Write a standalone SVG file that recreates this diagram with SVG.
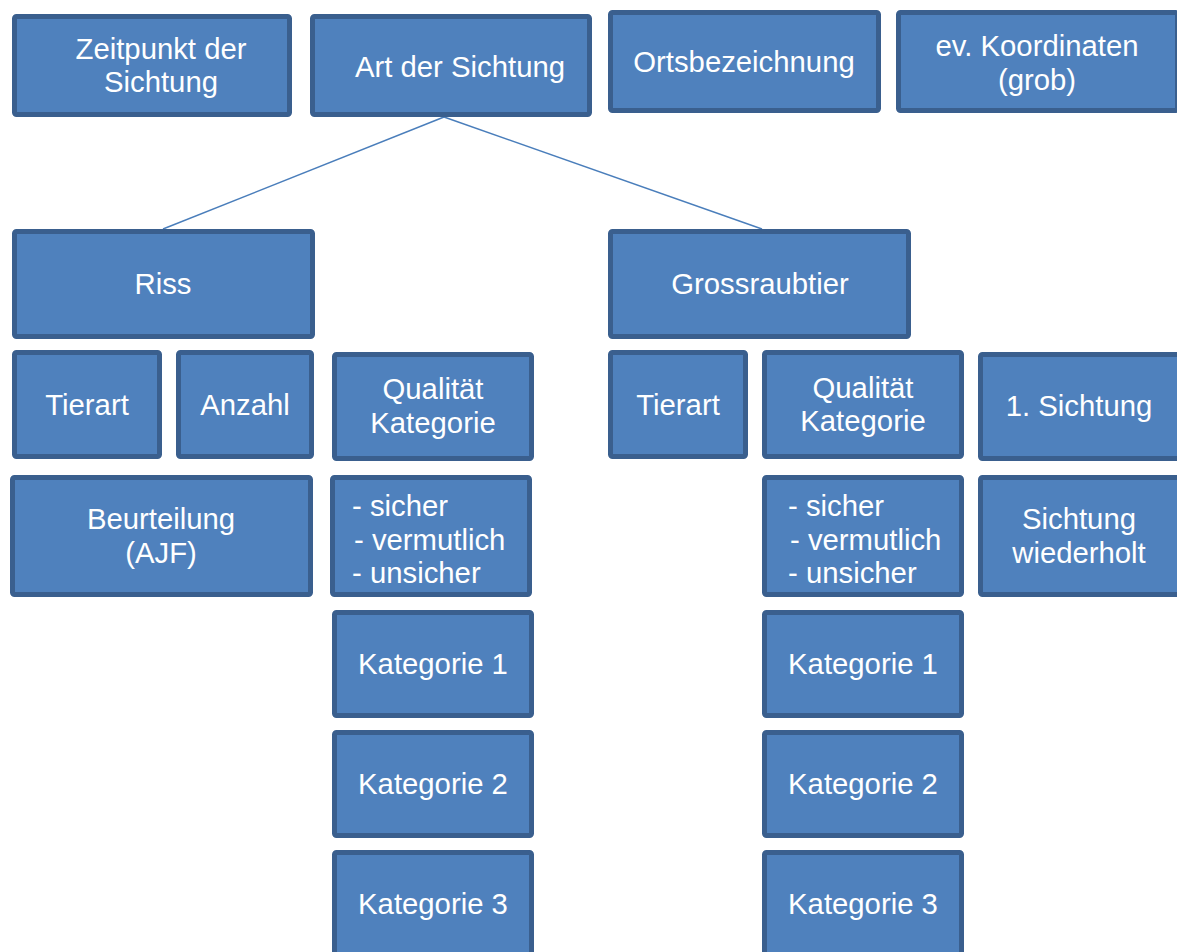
<svg xmlns="http://www.w3.org/2000/svg" width="1177" height="952" viewBox="0 0 1177 952">
<style>
.b{fill:#4F81BD;stroke:#3A5F8E;stroke-width:5}
.t{fill:#FFFFFF;font-family:"Liberation Sans",Arial,sans-serif;font-size:29.3px;text-anchor:middle}
.l{fill:#FFFFFF;font-family:"Liberation Sans",Arial,sans-serif;font-size:29.3px}
.c{stroke:#4A7EBB;stroke-width:1.5;fill:none}
</style>
<rect width="1177" height="952" fill="#FFFFFF"/>
<g id="connectors">
<line class="c" x1="444" y1="117" x2="163" y2="229"/>
<line class="c" x1="444" y1="117" x2="762" y2="229"/>
</g>
<g id="zeitpunkt"><rect class="b" x="14.5" y="16.5" width="275" height="98" rx="2"/><text class="t" x="161" y="59">Zeitpunkt der</text><text class="t" x="161" y="92">Sichtung</text></g>
<g id="art"><rect class="b" x="312.5" y="16.5" width="277" height="98" rx="2"/><text class="t" x="460" y="77">Art der Sichtung</text></g>
<g id="orts"><rect class="b" x="610.5" y="12.5" width="268" height="98" rx="2"/><text class="t" x="744" y="72">Ortsbezeichnung</text></g>
<g id="koord"><rect class="b" x="898.5" y="12.5" width="279" height="98" rx="2"/><text class="t" x="1037" y="56">ev. Koordinaten</text><text class="t" x="1037" y="90">(grob)</text></g>
<g id="riss"><rect class="b" x="14.5" y="231.5" width="298" height="105" rx="2"/><text class="t" x="163" y="294">Riss</text></g>
<g id="gross"><rect class="b" x="610.5" y="231.5" width="298" height="105" rx="2"/><text class="t" x="760" y="294">Grossraubtier</text></g>
<g id="tierart1"><rect class="b" x="14.5" y="352.5" width="145" height="104" rx="2"/><text class="t" x="87" y="415">Tierart</text></g>
<g id="anzahl"><rect class="b" x="178.5" y="352.5" width="133" height="104" rx="2"/><text class="t" x="245" y="415">Anzahl</text></g>
<g id="qual1"><rect class="b" x="334.5" y="354.5" width="197" height="104" rx="2"/><text class="t" x="433" y="399">Qualität</text><text class="t" x="433" y="433">Kategorie</text></g>
<g id="beurteilung"><rect class="b" x="12.5" y="477.5" width="298" height="117" rx="2"/><text class="t" x="161" y="529">Beurteilung</text><text class="t" x="161" y="563">(AJF)</text></g>
<g id="list1"><rect class="b" x="332.5" y="477.5" width="197" height="117" rx="2"/><text class="l" x="352" y="516">- sicher</text><text class="l" x="354" y="550">- vermutlich</text><text class="l" x="352" y="583">- unsicher</text></g>
<g id="kat1a"><rect class="b" x="334.5" y="612.5" width="197" height="103" rx="2"/><text class="t" x="433" y="674">Kategorie 1</text></g>
<g id="kat2a"><rect class="b" x="334.5" y="732.5" width="197" height="103" rx="2"/><text class="t" x="433" y="794">Kategorie 2</text></g>
<g id="kat3a"><rect class="b" x="334.5" y="852.5" width="197" height="103" rx="2"/><text class="t" x="433" y="914">Kategorie 3</text></g>
<g id="tierart2"><rect class="b" x="610.5" y="352.5" width="135" height="104" rx="2"/><text class="t" x="678" y="415">Tierart</text></g>
<g id="qual2"><rect class="b" x="764.5" y="352.5" width="197" height="104" rx="2"/><text class="t" x="863" y="398">Qualität</text><text class="t" x="863" y="431">Kategorie</text></g>
<g id="erste"><rect class="b" x="980.5" y="354.5" width="199" height="104" rx="2"/><text class="t" x="1079" y="416">1. Sichtung</text></g>
<g id="list2"><rect class="b" x="764.5" y="477.5" width="197" height="117" rx="2"/><text class="l" x="788" y="516">- sicher</text><text class="l" x="790" y="550">- vermutlich</text><text class="l" x="788" y="583">- unsicher</text></g>
<g id="wiederholt"><rect class="b" x="980.5" y="477.5" width="199" height="117" rx="2"/><text class="t" x="1079" y="529">Sichtung</text><text class="t" x="1079" y="563">wiederholt</text></g>
<g id="kat1b"><rect class="b" x="764.5" y="612.5" width="197" height="103" rx="2"/><text class="t" x="863" y="674">Kategorie 1</text></g>
<g id="kat2b"><rect class="b" x="764.5" y="732.5" width="197" height="103" rx="2"/><text class="t" x="863" y="794">Kategorie 2</text></g>
<g id="kat3b"><rect class="b" x="764.5" y="852.5" width="197" height="103" rx="2"/><text class="t" x="863" y="914">Kategorie 3</text></g>
</svg>
